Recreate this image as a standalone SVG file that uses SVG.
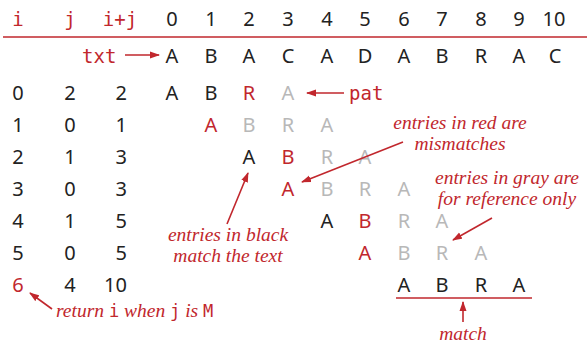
<svg xmlns="http://www.w3.org/2000/svg" width="587" height="343" viewBox="0 0 587 343">
<defs>
<style>
.s{font-family:"Noto Sans","Open Sans",sans-serif;font-size:20px;fill:#222;text-anchor:middle}
.e{text-anchor:end}
.r{fill:#c1272d}
.g{fill:#b8b8b8}
.m{font-family:"DejaVu Sans Mono","Liberation Mono",monospace;font-size:19px;fill:#c1272d}
.c{text-anchor:middle}
.n{font-family:"Liberation Serif",serif;font-style:italic;font-size:19.5px;fill:#c1272d;text-anchor:middle}
.st{text-anchor:start}
.mi{font-family:"DejaVu Sans Mono","Liberation Mono",monospace;font-style:normal;font-size:17px}
.ln{stroke:#c1272d;stroke-width:1.6;fill:none}
</style>
<marker id="ah" markerWidth="10" markerHeight="8" refX="9" refY="4" orient="auto" markerUnits="userSpaceOnUse">
<path d="M0,0.5 L10,4 L0,7.5 Z" fill="#c1272d"/>
</marker>
</defs>
<rect width="587" height="343" fill="#fff"/>
<g id="header">
<text class="m c" x="18" y="26">i</text>
<text class="m c" x="70" y="26">j</text>
<text class="m c" x="120" y="26">i+j</text>
<text class="s" x="172" y="26">0</text>
<text class="s" x="211" y="26">1</text>
<text class="s" x="249" y="26">2</text>
<text class="s" x="288" y="26">3</text>
<text class="s" x="327" y="26">4</text>
<text class="s" x="365" y="26">5</text>
<text class="s" x="404" y="26">6</text>
<text class="s" x="442" y="26">7</text>
<text class="s" x="481" y="26">8</text>
<text class="s" x="519" y="26">9</text>
<text class="s" x="554" y="26">10</text>
</g>
<g id="txt">
<text class="m" x="82" y="63">txt</text>
<text class="s" x="172" y="63">A</text>
<text class="s" x="211" y="63">B</text>
<text class="s" x="249" y="63">A</text>
<text class="s" x="288" y="63">C</text>
<text class="s" x="327" y="63">A</text>
<text class="s" x="365" y="63">D</text>
<text class="s" x="404" y="63">A</text>
<text class="s" x="442" y="63">B</text>
<text class="s" x="481" y="63">R</text>
<text class="s" x="519" y="63">A</text>
<text class="s" x="555" y="63">C</text>
</g>
<g id="row0">
<text class="s" x="18" y="100">0</text><text class="s" x="70" y="100">2</text><text class="s e" x="127" y="100">2</text>
<text class="s" x="172" y="100">A</text><text class="s" x="211" y="100">B</text><text class="s r" x="249" y="100">R</text><text class="s g" x="288" y="100">A</text>
<text class="m" x="349" y="100">pat</text>
</g>
<g id="row1">
<text class="s" x="18" y="132">1</text><text class="s" x="70" y="132">0</text><text class="s e" x="127" y="132">1</text>
<text class="s r" x="211" y="132">A</text><text class="s g" x="249" y="132">B</text><text class="s g" x="288" y="132">R</text><text class="s g" x="327" y="132">A</text>
</g>
<g id="row2">
<text class="s" x="18" y="164">2</text><text class="s" x="70" y="164">1</text><text class="s e" x="127" y="164">3</text>
<text class="s" x="249" y="164">A</text><text class="s r" x="288" y="164">B</text><text class="s g" x="327" y="164">R</text><text class="s g" x="365" y="164">A</text>
</g>
<g id="row3">
<text class="s" x="18" y="196">3</text><text class="s" x="70" y="196">0</text><text class="s e" x="127" y="196">3</text>
<text class="s r" x="288" y="196">A</text><text class="s g" x="327" y="196">B</text><text class="s g" x="365" y="196">R</text><text class="s g" x="404" y="196">A</text>
</g>
<g id="row4">
<text class="s" x="18" y="228">4</text><text class="s" x="70" y="228">1</text><text class="s e" x="127" y="228">5</text>
<text class="s" x="327" y="228">A</text><text class="s r" x="365" y="228">B</text><text class="s g" x="404" y="228">R</text><text class="s g" x="442" y="228">A</text>
</g>
<g id="row5">
<text class="s" x="18" y="260">5</text><text class="s" x="70" y="260">0</text><text class="s e" x="127" y="260">5</text>
<text class="s r" x="365" y="260">A</text><text class="s g" x="404" y="260">B</text><text class="s g" x="442" y="260">R</text><text class="s g" x="481" y="260">A</text>
</g>
<g id="row6">
<text class="s r" x="18" y="292">6</text><text class="s" x="70" y="292">4</text><text class="s e" x="127" y="292">10</text>
<text class="s" x="404" y="292">A</text><text class="s" x="442" y="292">B</text><text class="s" x="481" y="292">R</text><text class="s" x="519" y="292">A</text>
</g>
<g id="notes">
<text class="n" x="460" y="129">entries in red are</text>
<text class="n" x="460" y="150">mismatches</text>
<text class="n" x="507" y="184">entries in gray are</text>
<text class="n" x="507" y="205">for reference only</text>
<text class="n" x="228" y="241">entries in black</text>
<text class="n" x="228" y="262">match the text</text>
<text class="n st" x="56" y="317">return <tspan class="mi">i</tspan> when <tspan class="mi">j</tspan> is <tspan class="mi">M</tspan></text>
<text class="n" x="463" y="340">match</text>
</g>
<g id="connectors">
<line class="ln" x1="3" y1="37" x2="587" y2="37"/>
<line class="ln" x1="125" y1="55" x2="159" y2="55" marker-end="url(#ah)"/>
<line class="ln" x1="344" y1="93" x2="307" y2="93" marker-end="url(#ah)"/>
<line class="ln" x1="403" y1="142" x2="302" y2="182" marker-end="url(#ah)"/>
<line class="ln" x1="492" y1="218" x2="453" y2="240" marker-end="url(#ah)"/>
<line class="ln" x1="227" y1="224" x2="248" y2="173" marker-end="url(#ah)"/>
<line class="ln" x1="52" y1="309" x2="30" y2="293" marker-end="url(#ah)"/>
<line class="ln" x1="396" y1="298" x2="532" y2="298" stroke-width="2"/>
<line class="ln" x1="463" y1="322" x2="463" y2="302" marker-end="url(#ah)"/>
</g>
</svg>
